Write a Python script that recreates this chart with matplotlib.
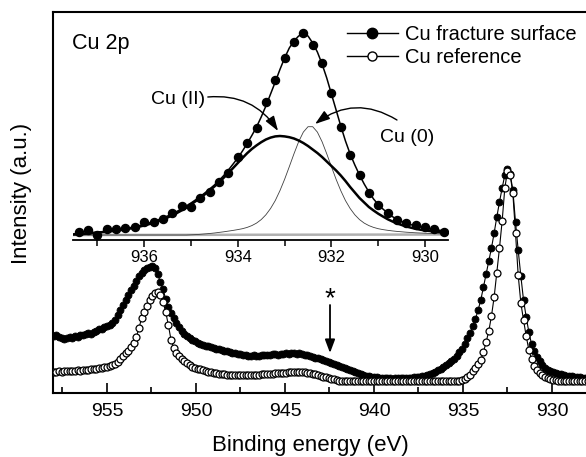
import numpy as np
import matplotlib
matplotlib.use('Agg')
import matplotlib.pyplot as plt
from matplotlib.lines import Line2D
from matplotlib.ticker import AutoMinorLocator

plt.rcParams['font.family'] = ['Liberation Sans', 'DejaVu Sans']

# ---------------- main spectra (0.15 eV steps, 958.0 -> 928.0) ----------------
main_energy = np.linspace(958.0, 928.0, 201)

fracture = [
    57, 58, 56, 55, 54, 55, 56, 55, 57, 56, 58, 58, 59, 60, 59, 61, 62, 64, 64, 66,
    67, 68, 70, 73, 78, 83, 88, 93, 98, 103, 107, 112, 117, 120, 123, 125, 126, 127, 125, 119,
    111, 104, 94, 86, 80, 75, 70, 66, 62, 59, 57, 55, 53, 52, 50, 49, 48, 47, 47, 46,
    45, 44, 44, 43, 42, 42, 41, 40, 40, 39, 39, 38, 38, 37, 37, 38, 37, 37, 38, 38,
    38, 38, 39, 39, 38, 39, 39, 40, 39, 40, 40, 39, 40, 39, 38, 38, 37, 36, 35, 35,
    34, 33, 32, 31, 30, 29, 28, 27, 26, 25, 24, 23, 22, 21, 20, 19, 18, 17, 17, 16,
    16, 16, 15, 15, 15, 15, 15, 14, 15, 15, 15, 15, 15, 15, 15, 16, 16, 16, 17, 17,
    18, 19, 20, 21, 23, 24, 26, 28, 30, 32, 34, 37, 41, 44, 49, 55, 60, 67, 74, 83,
    93, 106, 119, 132, 145, 160, 176, 191, 205, 218, 224, 219, 203, 171, 143, 117, 93, 76, 61, 49,
    42, 36, 32, 28, 25, 23, 22, 21, 20, 19, 19, 18, 17, 17, 17, 16, 16, 16, 15, 15, 15,
]

reference = [
    21, 21, 22, 21, 22, 22, 22, 22, 22, 23, 22, 23, 23, 23, 24, 24, 24, 25, 25, 26,
    26, 27, 28, 29, 31, 34, 37, 40, 42, 46, 50, 56, 65, 75, 81, 87, 93, 97, 100, 101,
    98, 91, 81, 68, 53, 45, 40, 37, 34, 32, 30, 28, 26, 25, 24, 24, 23, 22, 21, 21,
    20, 20, 19, 19, 19, 18, 18, 18, 18, 18, 18, 18, 18, 18, 18, 18, 18, 18, 19, 19,
    19, 19, 19, 20, 20, 20, 20, 20, 21, 21, 21, 21, 21, 21, 21, 20, 20, 19, 19, 18,
    17, 16, 16, 15, 14, 14, 13, 12, 12, 12, 12, 12, 12, 12, 12, 12, 12, 12, 12, 12,
    12, 12, 12, 12, 12, 12, 12, 12, 12, 12, 12, 12, 12, 12, 12, 12, 12, 12, 12, 12,
    12, 12, 12, 12, 12, 12, 12, 12, 12, 12, 12, 12, 12, 13, 14, 16, 18, 22, 25, 29,
    33, 41, 51, 62, 77, 96, 120, 145, 172, 205, 222, 218, 200, 160, 118, 90, 73, 57, 43, 34,
    27, 23, 20, 18, 16, 15, 14, 13, 13, 12, 12, 12, 12, 12, 12, 12, 12, 12, 12, 12, 12,
]

main_ticks = [955, 950, 945, 940, 935, 930]

# ---------------- inset: Cu 2p3/2 fit ----------------
inset_dot_energy = np.linspace(937.4, 929.6, 40)
inset_dots = [
    8, 10, 5, 11, 11, 12, 13, 18, 18, 21,
    27, 34, 33, 42, 48, 58, 67, 83, 97, 112,
    138, 160, 182, 198, 207, 195, 177, 147, 113, 85,
    65, 47, 35, 27, 20, 17, 15, 13, 11, 8,
]

fit_energy = np.linspace(937.5, 929.5, 81)
fit_envelope = [
    6.0, 6.3, 6.6, 7.0, 7.4, 7.8, 8.3, 8.8, 9.3, 9.9,
    10.6, 11.4, 12.3, 13.3, 14.4, 15.6, 17.0, 18.5, 20.2, 22.0,
    24.0, 26.2, 28.6, 31.2, 34.0, 37.0, 40.2, 43.6, 47.2, 51.0,
    55.0, 59.5, 64.5, 70.0, 76.0, 82.0, 89.0, 96.5, 104.5, 113.0,
    123.0, 134.0, 146.0, 158.0, 170.5, 182.0, 192.0, 199.0, 204.0, 206.0,
    204.0, 197.0, 188.0, 176.0, 162.0, 146.0, 130.0, 114.0, 99.0, 86.0,
    75.0, 65.0, 56.0, 48.0, 41.0, 35.5, 31.0, 27.0, 23.5, 20.5,
    18.5, 16.8, 15.3, 14.0, 13.0, 12.0, 11.2, 10.5, 9.8, 9.2, 8.7,
]
fit_cu2 = [
    5.5, 5.8, 6.1, 6.5, 6.9, 7.3, 7.8, 8.3, 8.8, 9.4,
    10.0, 10.7, 11.5, 12.4, 13.4, 14.5, 15.8, 17.2, 18.8, 20.6,
    22.5, 24.6, 27.0, 29.6, 32.4, 35.5, 38.8, 42.2, 45.8, 49.6,
    53.5, 57.8, 62.3, 67.0, 72.0, 77.0, 82.0, 86.8, 91.0, 94.6,
    97.8, 100.5, 102.4, 103.6, 104.0, 103.6, 102.8, 101.5, 99.5, 97.0,
    94.0, 90.5, 87.0, 83.0, 78.5, 74.0, 69.5, 64.5, 59.0, 53.0,
    47.5, 42.0, 37.5, 33.0, 29.5, 26.3, 23.5, 20.8, 18.6, 16.6,
    15.0, 13.5, 12.3, 11.2, 10.3, 9.6, 9.0, 8.5, 8.0, 7.6, 7.2,
]
fit_cu0 = [
    5.0, 5.0, 5.0, 5.0, 5.0, 5.0, 5.0, 5.0, 5.0, 5.0,
    5.0, 5.0, 5.0, 5.0, 5.0, 5.0, 5.0, 5.0, 5.0, 5.0,
    5.0, 5.0, 5.0, 5.0, 5.0, 5.2, 5.4, 5.7, 6.1, 6.5,
    7.0, 7.6, 8.2, 8.9, 9.6, 10.4, 11.3, 12.6, 14.4, 16.9,
    20.4, 25.2, 31.5, 39.4, 49.3, 60.7, 73.3, 86.2, 98.3, 107.9,
    113.3, 113.3, 107.9, 98.3, 86.2, 73.3, 60.7, 49.3, 39.4, 31.5,
    25.2, 20.4, 16.9, 14.4, 12.6, 11.3, 10.4, 9.7, 9.1, 8.6,
    8.2, 7.8, 7.5, 7.2, 7.0, 6.8, 6.6, 6.4, 6.2, 6.1, 6.0,
]
baseline_energy = [937.5, 929.5]
baseline = [5.0, 5.5]

inset_ticks = [936, 934, 932, 930]

# ---------------- figure ----------------
W, H = 586, 457
fig = plt.figure(figsize=(W / 100, H / 100), dpi=100)

ax = fig.add_axes([53 / W, 1 - 393 / H, 533 / W, 381 / H])
ax.plot(main_energy, fracture, '-o', color='black', lw=0.8, ms=5.0,
        mfc='black', mec='black', mew=0.6, zorder=2)
ax.plot(main_energy, reference, '-o', color='black', lw=0.8, ms=5.0,
        mfc='white', mec='black', mew=0.9, zorder=3)
ax.set_xlim(958.03, 928.09)
ax.set_ylim(0, 381)
ax.set_yticks([])
ax.set_xticks(main_ticks)
ax.xaxis.set_minor_locator(AutoMinorLocator(2))
ax.tick_params(axis='x', which='major', direction='in', length=7, width=1.2,
               labelsize=14, pad=7)
ax.tick_params(axis='x', which='minor', direction='in', length=4, width=1.2)
for s in ['left', 'bottom', 'top']:
    ax.spines[s].set_linewidth(1.5)
ax.spines['right'].set_visible(False)

ax.set_xlabel('Binding energy (eV)', fontsize=16)
ax.xaxis.set_label_coords(0.483, -0.11)
ax.set_ylabel('Intensity (a.u.)', fontsize=16)
ax.yaxis.set_label_coords(-0.04, 0.525)

ax.text(0.035, 0.945, 'Cu 2p', transform=ax.transAxes, fontsize=15.5,
        ha='left', va='top')

# asterisk + arrow
ax.text(942.47, 94, '*', fontsize=20, ha='center', va='center')
ax.annotate('', xy=(942.47, 40), xytext=(942.47, 88),
            arrowprops=dict(arrowstyle='-|>,head_length=0.8,head_width=0.3',
                            color='black', lw=1.3, shrinkA=0, shrinkB=0,
                            mutation_scale=10))

h1 = Line2D([], [], color='black', lw=1.0, marker='o', ms=7.5,
            mfc='black', mec='black')
h2 = Line2D([], [], color='black', lw=1.0, marker='o', ms=6.5,
            mfc='white', mec='black', mew=1.0)
ax.legend([h1, h2], ['Cu fracture surface', 'Cu reference'],
          loc='upper left', bbox_to_anchor=(0.552, 0.965), frameon=False,
          fontsize=14.5, handlelength=2.5, handletextpad=0.35,
          labelspacing=0.2, borderpad=0, borderaxespad=0)

# ---------------- inset ----------------
axin = fig.add_axes([73 / W, 1 - 240 / H, 375 / W, 220 / H])
axin.set_facecolor('none')
axin.plot(baseline_energy, baseline, color='#b0b0b0', lw=1.8, zorder=1)
axin.plot(fit_energy, fit_cu0, color='#404040', lw=0.6, zorder=2)
axin.plot(fit_energy, fit_cu2, color='black', lw=1.8, zorder=3)
axin.plot(fit_energy, fit_envelope, color='black', lw=1.1, zorder=4)
axin.plot(inset_dot_energy, inset_dots, 'o', color='black', ms=5.8, zorder=5)
axin.set_xlim(937.52, 929.51)
axin.set_ylim(0, 220)
axin.set_yticks([])
axin.set_xticks(inset_ticks)
axin.xaxis.set_minor_locator(AutoMinorLocator(2))
axin.tick_params(axis='x', which='major', direction='out', length=5, width=1.1,
                 labelsize=12, pad=2)
axin.tick_params(axis='x', which='minor', direction='out', length=4, width=1.1)
for s in ['left', 'right', 'top']:
    axin.spines[s].set_visible(False)
axin.spines['bottom'].set_linewidth(1.3)

axin.text(934.70, 141, 'Cu (II)', fontsize=14, ha='right', va='center')
axin.annotate('', xy=(933.14, 109), xytext=(934.64, 143),
              arrowprops=dict(arrowstyle='-|>,head_length=0.9,head_width=0.3',
                              color='black', lw=1.0, shrinkA=0, shrinkB=0,
                              connectionstyle='arc3,rad=-0.3',
                              mutation_scale=10))
axin.text(930.38, 103, 'Cu (0)', fontsize=14, ha='center', va='center')
axin.annotate('', xy=(932.35, 116), xytext=(930.6, 120),
              arrowprops=dict(arrowstyle='-|>,head_length=0.9,head_width=0.3',
                              color='black', lw=1.0, shrinkA=0, shrinkB=0,
                              connectionstyle='arc3,rad=0.34',
                              mutation_scale=10))

fig.savefig('out.png', dpi=100)
